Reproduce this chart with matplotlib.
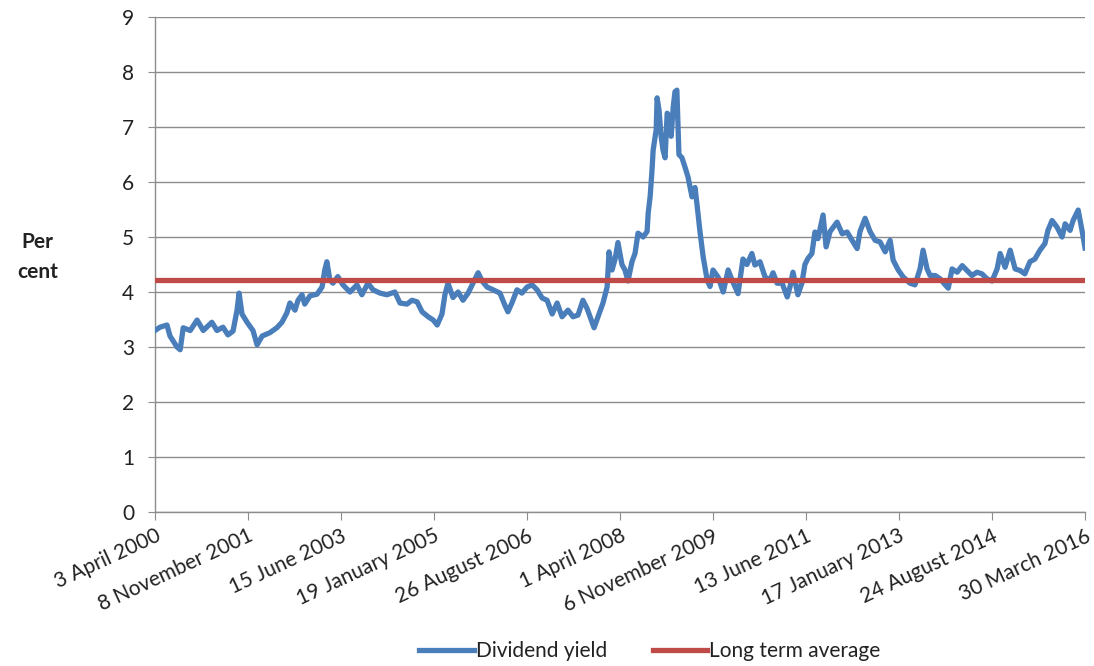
import matplotlib.pyplot as plt
import pandas as pd

# Dividend yield (per cent)
dates = [
    '2000-04-03', '2000-05-04', '2000-06-17', '2000-07-06', '2000-08-19', '2000-09-08',
    '2000-09-27', '2000-11-10', '2000-12-23', '2001-01-31', '2001-03-26', '2001-04-27',
    '2001-06-04', '2001-07-05', '2001-08-06', '2001-08-31', '2001-09-13', '2001-10-01',
    '2001-11-02', '2001-12-09', '2002-01-04', '2002-02-05', '2002-03-25', '2002-05-08',
    '2002-06-09', '2002-07-10', '2002-07-29', '2002-08-30', '2002-09-18', '2002-10-13',
    '2002-10-30', '2002-12-02', '2003-01-15', '2003-02-16', '2003-03-05', '2003-03-18',
    '2003-04-06', '2003-04-25', '2003-05-26', '2003-06-27', '2003-08-10', '2003-09-23',
    '2003-10-24', '2003-12-01', '2004-01-02', '2004-02-15', '2004-03-29', '2004-05-18',
    '2004-06-19', '2004-08-02', '2004-09-03', '2004-10-05', '2004-11-05', '2004-12-13',
    '2005-01-14', '2005-02-08', '2005-03-10', '2005-03-29', '2005-04-17', '2005-05-18',
    '2005-06-19', '2005-07-20', '2005-08-21', '2005-09-21', '2005-10-23', '2005-11-17',
    '2005-12-18', '2006-01-25', '2006-03-09', '2006-04-09', '2006-04-28', '2006-05-23',
    '2006-06-24', '2006-07-25', '2006-08-26', '2006-09-27', '2006-10-28', '2006-11-29',
    '2006-12-30', '2007-01-31', '2007-03-03', '2007-04-03', '2007-05-10', '2007-06-11',
    '2007-07-12', '2007-08-12', '2007-09-07', '2007-09-26', '2007-10-21', '2007-11-15',
    '2007-12-16', '2008-01-11', '2008-01-23', '2008-02-11', '2008-03-01', '2008-03-19',
    '2008-04-13', '2008-05-02', '2008-05-21', '2008-06-15', '2008-07-04', '2008-07-23',
    '2008-08-24', '2008-09-18', '2008-09-25', '2008-10-07', '2008-10-19', '2008-10-26',
    '2008-11-14', '2008-11-20', '2008-12-02', '2008-12-15', '2008-12-27', '2009-01-09',
    '2009-01-22', '2009-02-04', '2009-02-16', '2009-03-01', '2009-03-12', '2009-03-24',
    '2009-03-30', '2009-04-06', '2009-04-25', '2009-05-14', '2009-06-02', '2009-06-27',
    '2009-07-16', '2009-07-28', '2009-08-16', '2009-09-05', '2009-09-30', '2009-10-18',
    '2009-11-06', '2009-12-08', '2010-01-09', '2010-02-09', '2010-03-05', '2010-04-12',
    '2010-05-13', '2010-06-07', '2010-07-08', '2010-07-27', '2010-08-28', '2010-09-29',
    '2010-10-30', '2010-11-18', '2010-12-13', '2011-01-14', '2011-02-15', '2011-03-04',
    '2011-03-23', '2011-04-23', '2011-05-18', '2011-06-06', '2011-06-25', '2011-07-20',
    '2011-08-08', '2011-08-27', '2011-09-28', '2011-10-17', '2011-11-11', '2011-12-25',
    '2012-01-26', '2012-02-26', '2012-03-28', '2012-04-29', '2012-05-17', '2012-06-18',
    '2012-07-19', '2012-08-20', '2012-09-20', '2012-10-22', '2012-11-22', '2012-12-11',
    '2013-01-12', '2013-02-13', '2013-03-27', '2013-04-27', '2013-05-29', '2013-06-17',
    '2013-07-12', '2013-07-31', '2013-09-01', '2013-10-02', '2013-11-03', '2013-11-22',
    '2013-12-16', '2014-01-17', '2014-02-18', '2014-03-20', '2014-04-20', '2014-05-21',
    '2014-06-22', '2014-07-23', '2014-08-24', '2014-09-25', '2014-10-14', '2014-11-14',
    '2014-12-16', '2015-01-16', '2015-02-17', '2015-03-18', '2015-04-19', '2015-05-20',
    '2015-06-21', '2015-07-22', '2015-08-10', '2015-09-05', '2015-10-06', '2015-11-07',
    '2015-11-26', '2015-12-27', '2016-01-15', '2016-02-16', '2016-03-11', '2016-03-30',
]
dividend_yield = [
    3.30, 3.36, 3.40, 3.20, 3.00, 2.95,
    3.35, 3.30, 3.49, 3.30, 3.45, 3.30,
    3.36, 3.22, 3.29, 3.67, 3.98, 3.60,
    3.45, 3.30, 3.04, 3.20, 3.26, 3.35,
    3.45, 3.62, 3.80, 3.67, 3.85, 3.95,
    3.78, 3.93, 3.96, 4.09, 4.40, 4.55,
    4.22, 4.16, 4.28, 4.13, 4.00, 4.13,
    3.95, 4.16, 4.04, 3.98, 3.95, 4.00,
    3.80, 3.78, 3.85, 3.82, 3.64, 3.55,
    3.49, 3.40, 3.60, 3.96, 4.16, 3.90,
    4.00, 3.85, 3.98, 4.16, 4.35, 4.20,
    4.09, 4.04, 3.98, 3.76, 3.64, 3.80,
    4.04, 3.98, 4.09, 4.13, 4.04, 3.89,
    3.85, 3.60, 3.80, 3.55, 3.67, 3.55,
    3.58, 3.85, 3.70, 3.55, 3.35, 3.55,
    3.80, 4.09, 4.73, 4.40, 4.60, 4.90,
    4.50, 4.40, 4.20, 4.55, 4.70, 5.07,
    5.00, 5.10, 5.44, 5.73, 6.22, 6.58,
    6.95, 7.53, 7.30, 6.83, 6.58, 6.44,
    7.25, 7.20, 6.83, 7.36, 7.64, 7.67,
    7.13, 6.50, 6.44, 6.27, 6.09, 5.73,
    5.90, 5.60, 5.10, 4.64, 4.22, 4.10,
    4.40, 4.27, 4.00, 4.40, 4.22, 3.97,
    4.60, 4.50, 4.70, 4.49, 4.55, 4.27,
    4.22, 4.35, 4.16, 4.16, 3.91, 4.09,
    4.36, 3.95, 4.16, 4.50, 4.61, 4.70,
    5.09, 4.97, 5.40, 4.82, 5.10, 5.27,
    5.06, 5.09, 4.94, 4.79, 5.10, 5.34,
    5.10, 4.94, 4.91, 4.73, 4.94, 4.58,
    4.40, 4.27, 4.16, 4.13, 4.42, 4.76,
    4.42, 4.30, 4.30, 4.24, 4.13, 4.07,
    4.42, 4.36, 4.48, 4.39, 4.30, 4.36,
    4.33, 4.24, 4.20, 4.42, 4.70, 4.45,
    4.76, 4.42, 4.39, 4.33, 4.55, 4.60,
    4.76, 4.88, 5.12, 5.30, 5.18, 5.00,
    5.24, 5.12, 5.30, 5.49, 5.12, 4.80,
]
long_term_average = 4.22

tick_dates = ['2000-04-03', '2001-11-08', '2003-06-15', '2005-01-19', '2006-08-26', '2008-04-01',
              '2009-11-06', '2011-06-13', '2013-01-17', '2014-08-24', '2016-03-30']
tick_labels = ['3 April 2000', '8 November 2001', '15 June 2003', '19 January 2005',
               '26 August 2006', '1 April 2008', '6 November 2009', '13 June 2011',
               '17 January 2013', '24 August 2014', '30 March 2016']

plt.rcParams['font.family'] = ['Lato', 'DejaVu Sans']

x = pd.to_datetime(dates)
ticks = pd.to_datetime(tick_dates)
avg = [long_term_average] * len(x)

fig = plt.figure(figsize=(10.94, 6.66), dpi=100)
ax = fig.add_axes([0.1417, 0.2312, 0.8501, 0.7433])

ax.plot(x, dividend_yield, color='#4A7EBB', lw=3.8, solid_joinstyle='round',
        label='Dividend yield', zorder=3)
ax.plot(x, avg, color='#BE4B48', lw=3.8, label='Long term average', zorder=4)

ax.set_ylim(0, 9)
ax.set_yticks(range(0, 10))
ax.set_xlim(x[0], x[-1])
ax.set_xticks(ticks)
ax.set_xticklabels(tick_labels, rotation=25, ha='right', rotation_mode='anchor')

ax.grid(axis='y', color='#8c8c8c', lw=1.0)
ax.set_axisbelow(True)
for s in ['top', 'right']:
    ax.spines[s].set_visible(False)
for s in ['left', 'bottom']:
    ax.spines[s].set_color('#8c8c8c')
    ax.spines[s].set_linewidth(1.0)
ax.tick_params(axis='y', labelsize=15, length=5, color='#8c8c8c', pad=10, labelcolor='#222222')
ax.tick_params(axis='x', labelsize=15, length=6, color='#8c8c8c', pad=4, labelcolor='#222222')

fig.text(0.034, 0.614, 'Per\ncent', fontsize=15, fontweight='bold', ha='center', va='center',
         linespacing=1.6, color='#222222')

fig.legend(loc='center', bbox_to_anchor=(0.594, 0.022), ncol=2, frameon=False,
           fontsize=15, handlelength=2.6, columnspacing=2.2, handletextpad=0.1,
           labelcolor='#222222')

fig.savefig('out.png', dpi=100)
